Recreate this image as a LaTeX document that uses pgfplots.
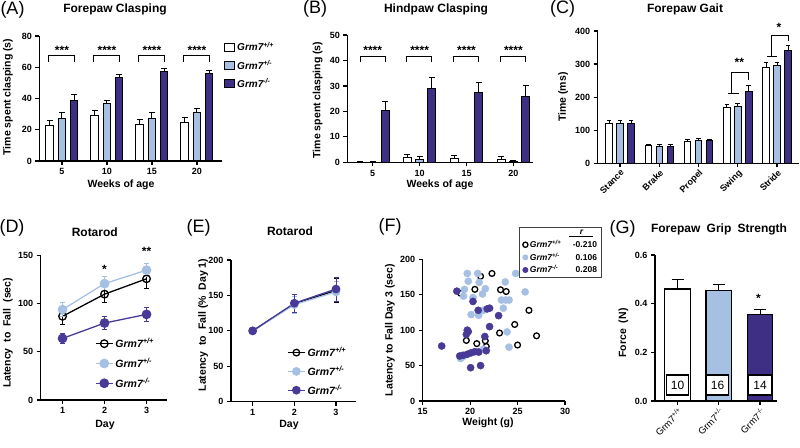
\documentclass[border=0pt]{standalone}
\usepackage{fontspec}
\setmainfont{Liberation Sans}
\usepackage{pgfplots}
\pgfplotsset{compat=1.18}

\definecolor{hetblue}{RGB}{166,192,228}
\definecolor{kopurple}{RGB}{62,46,132}
\definecolor{kodot}{RGB}{72,58,150}

\pgfplotsset{
  panel/.style={
    scale only axis, anchor=south west, clip=false,
    axis lines=left, axis line style={-, line width=1.2pt},
    tick align=outside, major tick length=4pt,
    tick style={line width=1.2pt, black},
    /pgf/number format/assume math mode=true,
    tick label style={font=\bfseries\fontsize{9}{10}\selectfont},
    label style={font=\bfseries\fontsize{10.5}{12}\selectfont},
    ylabel style={anchor=center},
    title style={anchor=center, font=\bfseries\fontsize{12}{14}\selectfont},
    legend cell align=left,
  },
  ebar/.style={
    /pgfplots/error bars/y dir=plus, /pgfplots/error bars/y explicit,
    /pgfplots/error bars/error bar style={black, line width=1pt},
    /pgfplots/error bars/error mark options={black, rotate=90, mark size=#1, line width=1pt},
  },
  ebar/.default=3pt,
  eline/.style={
    /pgfplots/error bars/y dir=both, /pgfplots/error bars/y explicit,
    /pgfplots/error bars/error bar style={line width=1pt},
    /pgfplots/error bars/error mark options={rotate=90, mark size=2.5pt, line width=1pt},
  },
  gbar/.style={ybar, bar width=#1, bar shift=0pt, draw=black, line width=1pt,
    legend image code/.code={\draw[##1, line width=1pt] (0pt,-3.8pt) rectangle (10.5pt,4pt);}},
}
\tikzset{
  sig/.style={line width=1pt},
  star/.style={font=\bfseries\fontsize{12}{14}\selectfont, inner sep=0pt, yshift=-2.3pt},
  xlab/.style={font=\bfseries\fontsize{10.5}{12}\selectfont, anchor=center, inner sep=0pt},
}

\begin{document}
\begin{tikzpicture}
\useasboundingbox (0,0) rectangle (800pt,447pt);

% panel letters
\begin{scope}[every node/.style={font=\fontsize{18}{20}\selectfont}]
  \node at (12.5pt,437pt) {(A)};
  \node at (315pt,438pt) {(B)};
  \node at (562.5pt,438pt) {(C)};
  \node at (12pt,219pt) {(D)};
  \node at (198.5pt,219pt) {(E)};
  \node at (390pt,220pt) {(F)};
  \node at (622.5pt,218pt) {(G)};
\end{scope}

% x axis labels
\node[xlab] at (121pt,262pt) {Weeks of age};
\node[xlab] at (440pt,262pt) {Weeks of age};
\node[xlab] at (105pt,22pt) {Day};
\node[xlab] at (289pt,22pt) {Day};
\node[xlab] at (488pt,24pt) {Weight (g)};

% (A) forepaw clasping
\begin{axis}[panel, at={(39.3pt,286pt)}, width=182.4pt, height=125pt,
  xmin=2.48, xmax=22.75, ymin=0, ymax=80,
  xtick={5,10,15,20}, ytick={0,20,40,60,80},
  title={Forepaw Clasping}, title style={at={(axis description cs:0.415,1.168)}},
  ylabel={Time spent clasping (s)}, ylabel style={at={(axis description cs:-0.172,0.512)}},
  legend style={at={(axis description cs:1.01,0.968)}, anchor=north west, draw=none, fill=none,
    inner sep=0pt, row sep=4pt, font=\bfseries\itshape\fontsize{10}{12}\selectfont},
]
\addplot[gbar=7.4pt, fill=white, ebar] coordinates
  {(3.633,22.6) +- (0,3.2) (8.633,29) +- (0,3.6) (13.633,23.3) +- (0,3.2) (18.633,24.5) +- (0,3.2)};
\addlegendentry{Grm7\textsuperscript{+/+}}
\addplot[gbar=7.4pt, fill=hetblue, ebar] coordinates
  {(5,27.5) +- (0,3.6) (10,36.5) +- (0,2.1) (15,27.5) +- (0,3.4) (20,30.9) +- (0,2.6)};
\addlegendentry{Grm7\textsuperscript{+/-}}
\addplot[gbar=7.4pt, fill=kopurple, ebar] coordinates
  {(6.367,38.6) +- (0,4.1) (11.367,53.3) +- (0,2.2) (16.367,57.2) +- (0,1.9) (21.367,55.7) +- (0,2.5)};
\addlegendentry{Grm7\textsuperscript{-/-}}
\draw[sig] (axis cs:3.5,63.1) |- (axis cs:6.4,67.2) -- (axis cs:6.4,63.1);
\draw[sig] (axis cs:8.5,63.1) |- (axis cs:11.4,67.2) -- (axis cs:11.4,63.1);
\draw[sig] (axis cs:13.5,63.1) |- (axis cs:16.4,67.2) -- (axis cs:16.4,63.1);
\draw[sig] (axis cs:18.5,63.1) |- (axis cs:21.4,67.2) -- (axis cs:21.4,63.1);
\node[star] at (axis cs:5,72) {***};
\node[star] at (axis cs:10,72) {****};
\node[star] at (axis cs:15,72) {****};
\node[star] at (axis cs:20,72) {****};
\end{axis}

% (B) hindpaw clasping
\begin{axis}[panel, at={(347.3pt,284.7pt)}, width=185.7pt, height=127.3pt,
  xmin=2.29, xmax=22.09, ymin=0, ymax=50,
  xtick={5,10,15,20}, ytick={0,10,...,50},
  title={Hindpaw Clasping}, title style={at={(axis description cs:0.478,1.157)}},
  ylabel={Time spent clasping (s)}, ylabel style={at={(axis description cs:-0.160,0.489)}},
]
\addplot[gbar=8pt, fill=white, ebar] coordinates
  {(3.689,0) +- (0,0.2) (8.689,1.8) +- (0,1.3) (13.689,1.3) +- (0,1.2) (18.689,1.2) +- (0,1.2)};
\addplot[gbar=8pt, fill=hetblue, ebar] coordinates
  {(5,0) +- (0,0.2) (10,1.2) +- (0,1.0) (15,0) +- (0,0) (20,0.3) +- (0,0.5)};
\addplot[gbar=8pt, fill=kopurple, ebar] coordinates
  {(6.311,20.5) +- (0,3.5) (11.311,29) +- (0,4.5) (16.311,27.3) +- (0,4) (21.311,26) +- (0,4)};
\draw[sig] (axis cs:3.65,39.5) |- (axis cs:6.31,41.5) -- (axis cs:6.31,39.5);
\draw[sig] (axis cs:8.65,39.5) |- (axis cs:11.31,41.5) -- (axis cs:11.31,39.5);
\draw[sig] (axis cs:13.65,39.5) |- (axis cs:16.31,41.5) -- (axis cs:16.31,39.5);
\draw[sig] (axis cs:18.65,39.5) |- (axis cs:21.31,41.5) -- (axis cs:21.31,39.5);
\node[star] at (axis cs:5,44.8) {****};
\node[star] at (axis cs:10,44.8) {****};
\node[star] at (axis cs:15,44.8) {****};
\node[star] at (axis cs:20,44.8) {****};
\end{axis}

% (C) forepaw gait
\begin{axis}[panel, at={(597.7pt,283.7pt)}, width=201.3pt, height=132.3pt,
  xmin=0.43, xmax=5.56, ymin=0, ymax=400,
  xtick={1,...,5}, xticklabels={Stance,Brake,Propel,Swing,Stride},
  xticklabel style={rotate=45, anchor=north east, inner sep=1pt},
  ytick={0,100,...,400},
  title={Forepaw Gait}, title style={at={(axis description cs:0.434,1.121)}},
  ylabel={Time (ms)}, ylabel style={at={(axis description cs:-0.172,0.5)}},
]
\addplot[gbar=6.5pt, fill=white, ebar=2.3pt] coordinates
  {(0.72,121) +- (0,8) (1.72,53) +- (0,5) (2.72,67) +- (0,5) (3.72,168) +- (0,11) (4.72,290) +- (0,15)};
\addplot[gbar=6.5pt, fill=hetblue, ebar=2.3pt] coordinates
  {(1,121) +- (0,8) (2,51) +- (0,5) (3,70) +- (0,5) (4,172) +- (0,10) (5,296) +- (0,10)};
\addplot[gbar=6.5pt, fill=kopurple, ebar=2.3pt] coordinates
  {(1.28,120) +- (0,8) (2.28,51) +- (0,5) (3.28,68) +- (0,5) (4.28,218) +- (0,17) (5.28,340) +- (0,17)};
\draw[sig] (axis cs:3.746,211) -- (axis cs:4.018,211);
\draw[sig] (axis cs:3.832,211) -- (axis cs:3.832,276) -- (axis cs:4.28,276) -- (axis cs:4.28,253);
\draw[sig] (axis cs:4.754,324) -- (axis cs:4.992,324);
\draw[sig] (axis cs:4.865,324) -- (axis cs:4.865,387) -- (axis cs:5.28,387) -- (axis cs:5.28,370);
\node[star] at (axis cs:4.04,313) {**};
\node[star] at (axis cs:5.05,419) {*};
\end{axis}

% (D) rotarod
\begin{axis}[panel, at={(40.7pt,47pt)}, width=126pt, height=144.3pt,
  xmin=0.48, xmax=3.48, ymin=0, ymax=150,
  xtick={1,2,3}, ytick={0,50,100,150},
  title={Rotarod}, title style={at={(axis description cs:0.429,1.123)}},
  ylabel={Latency\hspace{3pt} to\hspace{3pt} Fall\hspace{3pt} (sec)}, ylabel style={at={(axis description cs:-0.26,0.465)}},
  legend style={at={(axis description cs:0.43,0.443)}, anchor=north west, draw=none, fill=none,
    inner sep=0pt, row sep=5pt, font=\bfseries\itshape\fontsize{10.5}{12}\selectfont},
]
\addplot[black, line width=1.3pt, mark=o, mark size=3.8pt, mark options={fill=white, line width=1.3pt}, eline]
  coordinates {(1,87) +- (0,9) (2,110) +- (0,9) (3,126) +- (0,10)};
\addlegendentry{Grm7\textsuperscript{+/+}}
\addplot[hetblue, line width=1.3pt, mark=*, mark size=4.2pt, eline]
  coordinates {(1,94) +- (0,7) (2,121) +- (0,7) (3,135) +- (0,7)};
\addlegendentry{Grm7\textsuperscript{+/-}}
\addplot[kodot, line width=1.3pt, mark=*, mark size=4.2pt, eline]
  coordinates {(1,64) +- (0,5) (2,80) +- (0,7) (3,89) +- (0,7)};
\addlegendentry{Grm7\textsuperscript{-/-}}
\node[star] at (axis cs:2,138.6) {*};
\node[star] at (axis cs:3,156.6) {**};
\end{axis}

% (E) rotarod, % of day 1
\begin{axis}[panel, at={(231pt,45.3pt)}, width=125pt, height=141.7pt,
  xmin=0.48, xmax=3.48, ymin=0, ymax=200,
  xtick={1,2,3}, ytick={0,50,...,200},
  title={Rotarod}, title style={at={(axis description cs:0.472,1.162)}},
  ylabel={Latency\hspace{3pt} to\hspace{3pt} Fall (\%\hspace{3pt} Day 1)}, ylabel style={at={(axis description cs:-0.222,0.541)}},
  legend style={at={(axis description cs:0.448,0.40)}, anchor=north west, draw=none, fill=none,
    inner sep=0pt, row sep=4pt, font=\bfseries\itshape\fontsize{10.5}{12}\selectfont},
]
\addplot[black, line width=1.3pt, mark=o, mark size=3.3pt, mark options={fill=white, line width=1.3pt}, eline]
  coordinates {(1,100) +- (0,0) (2,138) +- (0,14) (3,157) +- (0,17)};
\addlegendentry{Grm7\textsuperscript{+/+}}
\addplot[hetblue, line width=1.3pt, mark=*, mark size=3.7pt, eline]
  coordinates {(1,100) +- (0,0) (2,137) +- (0,12) (3,155) +- (0,14)};
\addlegendentry{Grm7\textsuperscript{+/-}}
\addplot[kodot, line width=1.3pt, mark=*, mark size=3.7pt, eline]
  coordinates {(1,100) +- (0,0) (2,139) +- (0,13) (3,159) +- (0,17)};
\addlegendentry{Grm7\textsuperscript{-/-}}
\end{axis}

% (F) latency vs weight
\begin{axis}[panel, at={(422.7pt,46pt)}, width=142.3pt, height=141.7pt,
  xmin=15, xmax=30, ymin=0, ymax=200,
  xtick={15,20,25,30}, ytick={0,50,...,200},
  ylabel={Latency to Fall Day 3 (sec)}, ylabel style={at={(axis description cs:-0.23,0.5)}},
  legend style={at={(axis description cs:0.677,1.228)}, anchor=north west, draw=black!75, line width=0.7pt,
    fill=white, inner xsep=2pt, inner ysep=1pt, row sep=0pt, font=\bfseries\fontsize{8.5}{10}\selectfont},
  legend image code/.code={\draw[mark repeat=2, mark phase=2, #1, mark size=2.6pt] plot coordinates {(0pt,0pt) (4pt,0pt) (8pt,0pt)};},
]
\addlegendimage{empty legend}
\addlegendentry{\makebox[36pt]{}\makebox[31pt][c]{\underline{\makebox[24pt]{\itshape r}}}}
\addplot[only marks, mark=o, mark size=2.9pt, black, line width=1.3pt] coordinates {
  (22.3,180) (21.1,176) (19.0,152) (20.5,157.6) (23.2,157) (23.8,154.5) (26.2,128) (24.7,108)
  (23.1,96) (27.0,92) (19.6,85.5) (20.7,81) (21.6,85) (21.7,77) (25.0,79)};
\addlegendentry{\makebox[36pt][l]{\itshape Grm7\textsuperscript{+/+}}\makebox[31pt][r]{-0.210}}
\addplot[only marks, mark=*, mark size=3.6pt, mark options={draw=hetblue, fill=hetblue}] coordinates {
  (19.7,180) (20.8,180) (19.8,169) (20.95,167.5) (19.4,157.5) (21.6,158.5) (21.3,151) (19.3,148)
  (20.3,146) (23.3,142.5) (23.75,142.5) (24.1,142.5) (23.7,168) (24.8,180) (25.8,154) (23.5,131)
  (20.1,122) (20.9,121) (21.4,128) (23.9,97.5) (24.1,76) (19.0,60) (19.3,63) (21.4,73) (20.9,70)};
\addlegendentry{\makebox[36pt][l]{\itshape Grm7\textsuperscript{+/-}}\makebox[31pt][r]{0.106}}
\addplot[only marks, mark=*, mark size=3.6pt, mark options={draw=kodot, fill=kodot}] coordinates {
  (18.6,155) (20.3,140.5) (20.85,128) (21.8,130) (22.05,131) (23.0,120.5) (22.05,105) (19.7,100)
  (19.8,98) (19.6,94) (21.55,91) (21.7,71) (17.0,77.6) (18.9,63.5) (19.25,64.5) (19.7,66)
  (20.1,68) (20.5,69.6) (20.9,69) (20.05,47) (21.1,50)};
\addlegendentry{\makebox[36pt][l]{\itshape Grm7\textsuperscript{-/-}}\makebox[31pt][r]{0.208}}
\end{axis}

% (G) grip strength
\begin{axis}[panel, at={(655pt,46pt)}, width=122pt, height=146pt,
  xmin=0.455, xmax=3.41, ymin=0, ymax=0.6,
  ytick={0,0.2,0.4,0.6},
  yticklabel style={/pgf/number format/.cd, fixed, fixed zerofill, precision=1},
  xtick={1,2,3},
  xticklabels={Grm7\textsuperscript{+/+},Grm7\textsuperscript{+/-},Grm7\textsuperscript{-/-}},
  xticklabel style={rotate=45, anchor=north east, inner sep=1pt, font=\fontsize{9.5}{11}\selectfont},
  title={Forepaw\hspace{3pt} Grip\hspace{3pt} Strength}, title style={at={(axis description cs:0.525,1.137)}},
  ylabel={Force\hspace{3pt} (N)}, ylabel style={at={(axis description cs:-0.26,0.466)}},
]
\addplot[gbar=25.5pt, fill=white, line width=1.2pt, ebar=6pt] coordinates {(1,0.46) +- (0,0.038)};
\addplot[gbar=25.5pt, fill=hetblue, line width=1.2pt, ebar=6pt] coordinates {(2,0.455) +- (0,0.022)};
\addplot[gbar=25.5pt, fill=kopurple, line width=1.2pt, ebar=6pt] coordinates {(3,0.355) +- (0,0.022)};
\begin{scope}[every node/.style={draw=black, line width=1.2pt, fill=white, minimum width=22.5pt,
    minimum height=20pt, inner sep=0pt, font=\fontsize{12}{14}\selectfont}]
  \node at (axis cs:1,0.066) {10};
  \node at (axis cs:1.97,0.066) {16};
  \node at (axis cs:3,0.066) {14};
\end{scope}
\node[star] at (axis cs:2.96,0.432) {*};
\end{axis}
\end{tikzpicture}
\end{document}
